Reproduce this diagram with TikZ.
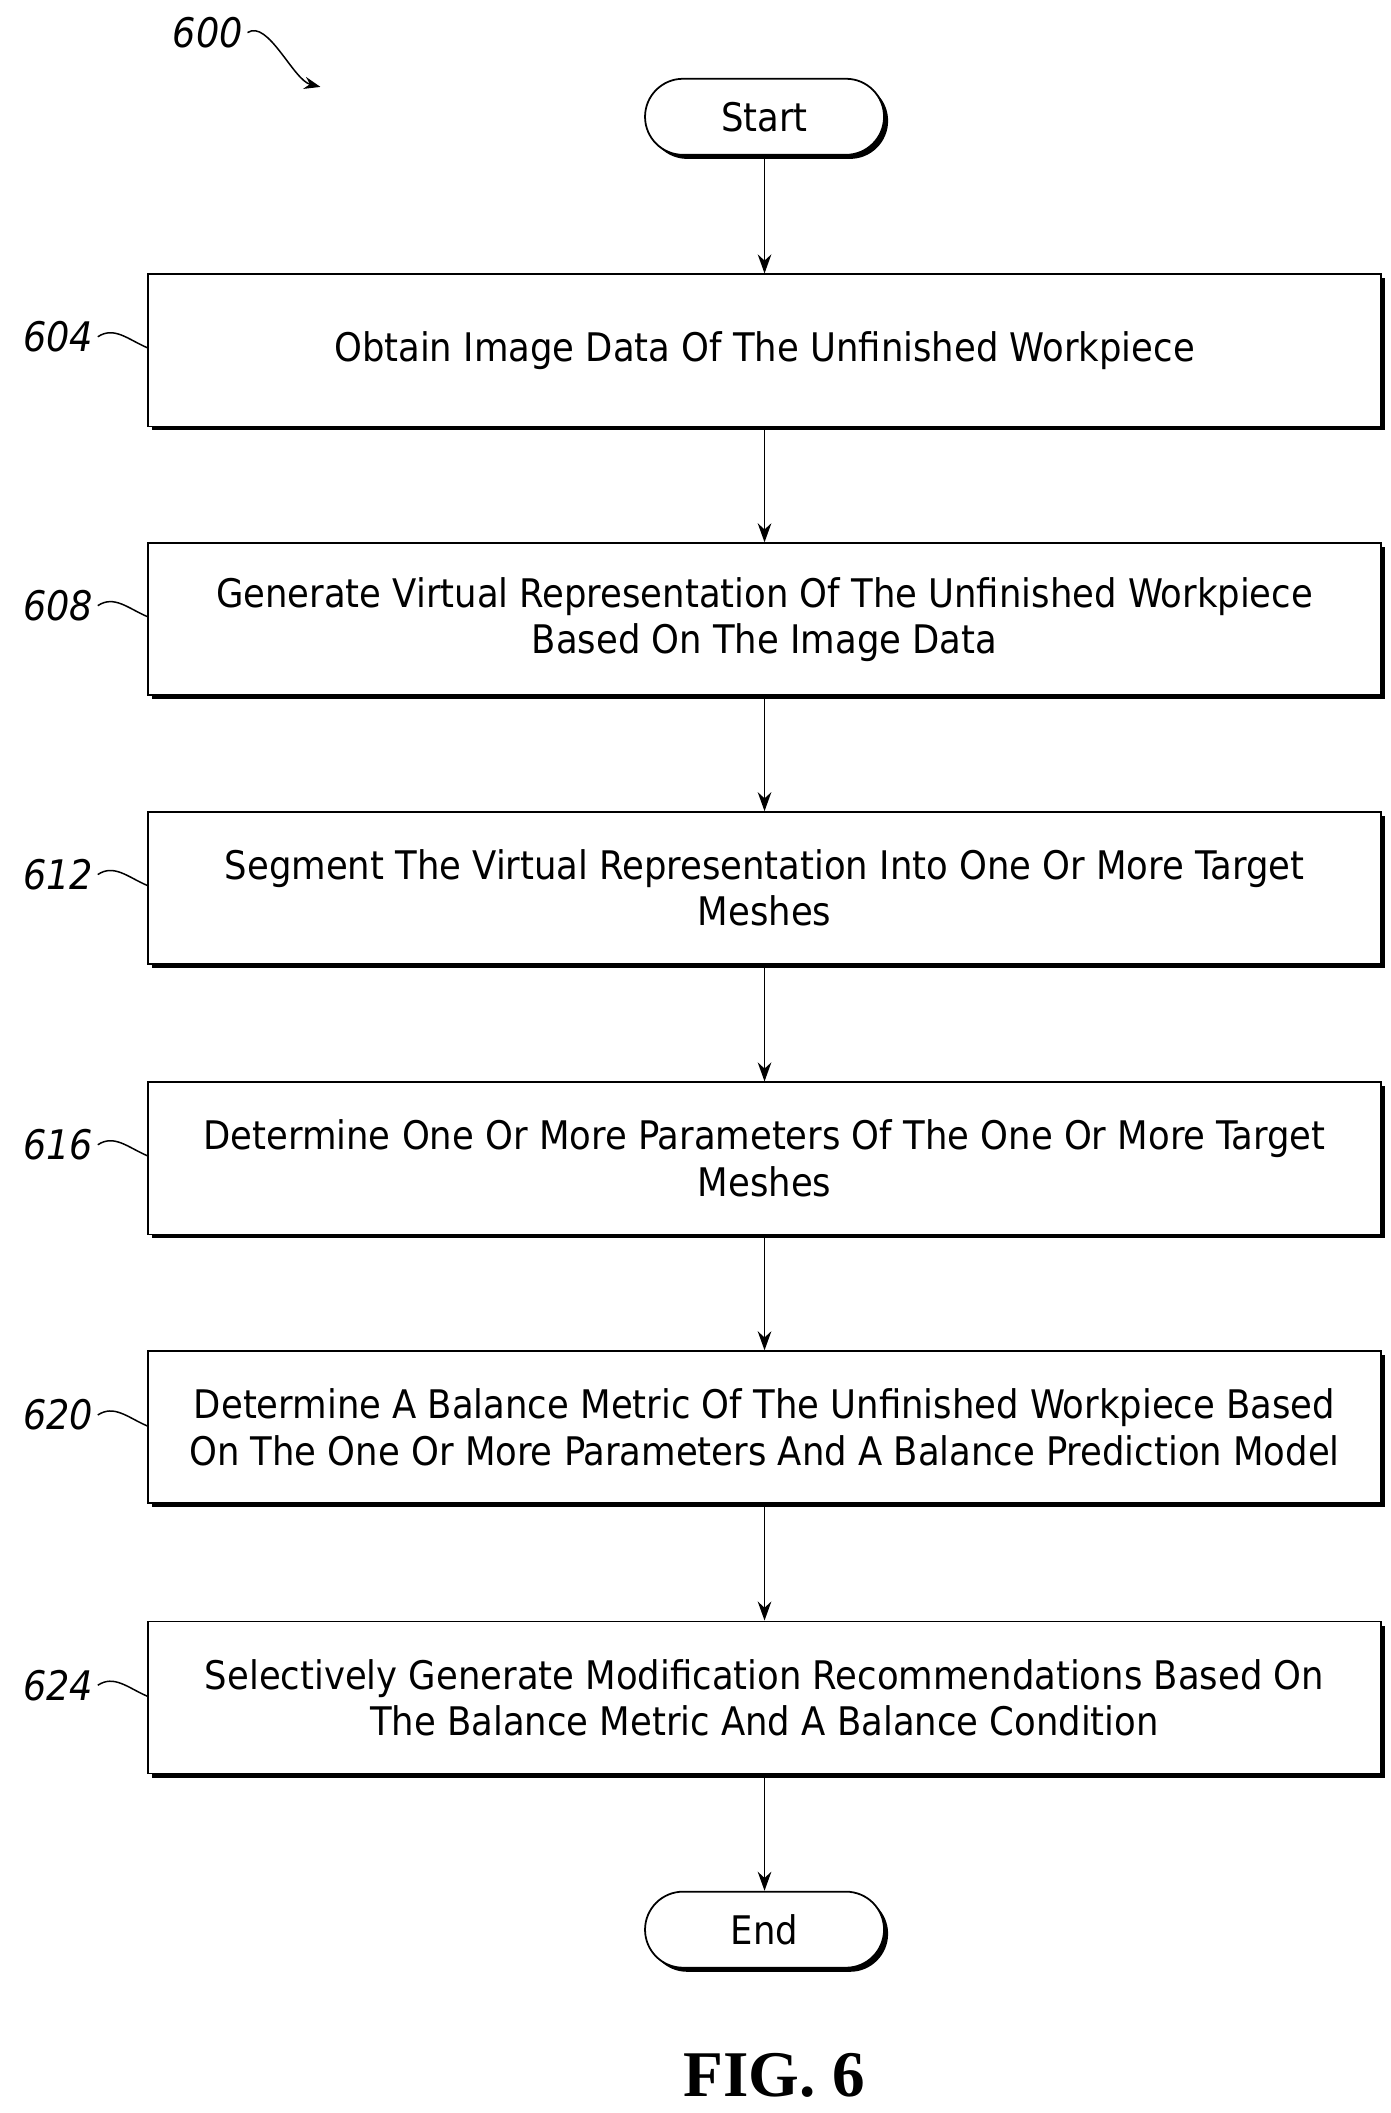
\documentclass[tikz,border=0pt]{standalone}
\usepackage{fontspec}
\setmainfont{DejaVu Sans Condensed}
\newfontfamily\figfont{Liberation Serif}
\usetikzlibrary{shadows,arrows.meta}
\begin{document}
\begin{tikzpicture}[x=1pt,y=-1pt,
  box/.style={draw,line width=1.3pt,fill=white,minimum width=908pt,minimum height=112pt,align=center,font=\fontsize{29}{34}\selectfont,drop shadow={shadow xshift=3pt,shadow yshift=-3pt,fill=black,opacity=1}},
  term/.style={draw,line width=1.3pt,fill=white,rounded corners=28pt,minimum width=176pt,minimum height=56pt,font=\fontsize{29}{34}\selectfont,drop shadow={shadow xshift=3pt,shadow yshift=-3pt,fill=black,opacity=1}},
  lab/.style={font=\fontsize{30}{34}\selectfont\itshape,anchor=east},
  arr/.style={line width=1.3pt,-{Stealth[length=14pt,width=10pt]}},
  lead/.style={line width=1.1pt}]
\useasboundingbox (0,0) rectangle (1024,1556);
\node[term] (s) at (563,86) {Start};
\node[box] (b1) at (563,258) {Obtain Image Data Of The Unfinished Workpiece};
\node[box] (b2) at (563,456) {Generate Virtual Representation Of The Unfinished Workpiece\\Based On The Image Data};
\node[box] (b3) at (563,654) {Segment The Virtual Representation Into One Or More Target\\Meshes};
\node[box] (b4) at (563,853) {Determine One Or More Parameters Of The One Or More Target\\Meshes};
\node[box] (b5) at (563,1051) {Determine A Balance Metric Of The Unfinished Workpiece Based\\On The One Or More Parameters And A Balance Prediction Model};
\node[box] (b6) at (563,1250) {Selectively Generate Modification Recommendations Based On\\The Balance Metric And A Balance Condition};
\node[term] (e) at (563,1421) {End};
\draw[arr] (s) -- (b1);
\draw[arr] (b1) -- (b2);
\draw[arr] (b2) -- (b3);
\draw[arr] (b3) -- (b4);
\draw[arr] (b4) -- (b5);
\draw[arr] (b5) -- (b6);
\draw[arr] (b6) -- (e);
\foreach \n/\t/\y in {b1/604/248,b2/608/446,b3/612/644,b4/616/843,b5/620/1042,b6/624/1241}{
  \node[lab] (l\t) at (72,\y) {\t};
  \draw[lead] (l\t.east) .. controls +(12,-8) and +(-14,-6) .. (\n.west |- 0,\y+8);
}
\node[font=\fontsize{30}{34}\selectfont\itshape] (n600) at (153,24) {600};
\coordinate (a600) at (236,64);
\draw[line width=1.1pt,-{Stealth[length=12pt,width=9pt]}] (n600.east) .. controls +(15,-10) and +(-20,-5) .. (a600);
\node[font=\fontsize{48}{52}\selectfont\bfseries\figfont] (fig) at (570,1528) {FIG. 6};
\end{tikzpicture}
\end{document}
